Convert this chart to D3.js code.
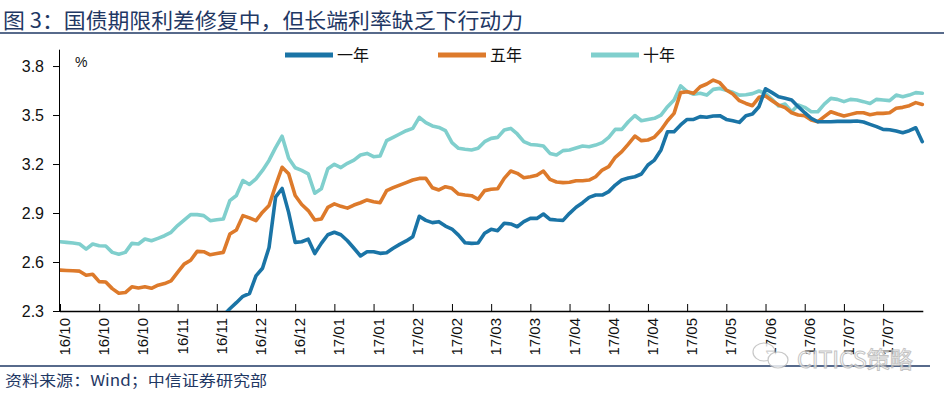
<!DOCTYPE html>
<html>
<head>
<meta charset="utf-8">
<script src="https://cdn.jsdelivr.net/npm/d3@7"></script>
<style>
  html, body { margin: 0; padding: 0; background: #fff; }
  svg { display: block; }
</style>
</head>
<body>
<svg id="chart" width="944" height="400"></svg>
<script>
const title = "图 3：国债期限利差修复中，但长端利率缺乏下行动力";
const source = "资料来源：Wind；中信证券研究部";
const seriesNames = ["一年", "五年", "十年"];
const yTicks = [2.3, 2.6, 2.9, 3.2, 3.5, 3.8];
const xTickLabels = ["16/10","16/10","16/10","16/11","16/11","16/12","16/12","17/01","17/01","17/02","17/02",
  "17/03","17/03","17/04","17/04","17/04","17/05","17/05","17/06","17/06","17/07","17/07"];
const pointsPerTick = 6;

const oneYear = [null,null,null,null,null,null,null,null,null,null,null,null,null,null,null,null,null,null,null,null,null,null,null,null,
  2.230,2.272,2.314,2.351,2.390,2.407,2.515,2.562,2.689,2.997,3.050,2.904,2.720,2.724,2.740,2.652,
  2.714,2.767,2.782,2.767,2.730,2.684,2.637,2.663,2.663,2.653,2.657,2.684,2.708,2.729,2.755,2.880,
  2.855,2.841,2.847,2.820,2.802,2.765,2.718,2.714,2.716,2.776,2.800,2.792,2.837,2.833,2.816,2.847,
  2.867,2.867,2.894,2.861,2.857,2.855,2.898,2.935,2.963,2.996,3.010,3.010,3.031,3.071,3.102,3.114,
  3.122,3.139,3.194,3.224,3.286,3.398,3.398,3.439,3.473,3.473,3.490,3.486,3.494,3.496,3.473,3.465,
  3.455,3.496,3.506,3.551,3.661,3.637,3.612,3.602,3.592,3.551,3.514,3.480,3.459,3.459,3.459,3.461,
  3.461,3.461,3.463,3.457,3.443,3.429,3.412,3.410,3.402,3.392,3.404,3.422,3.337];

const fiveYear = [2.550,2.548,2.546,2.544,2.519,2.525,2.480,2.478,2.437,2.409,2.413,2.448,2.441,2.448,2.439,2.458,
  2.468,2.484,2.536,2.587,2.611,2.665,2.663,2.644,2.652,2.659,2.771,2.796,2.884,2.870,2.853,2.905,
  2.946,3.068,3.180,3.140,3.007,2.952,2.915,2.857,2.863,2.935,2.956,2.941,2.930,2.949,2.963,2.980,
  2.969,2.963,3.037,3.055,3.071,3.086,3.102,3.112,3.112,3.055,3.041,3.061,3.051,3.016,3.010,3.006,
  2.984,3.037,3.045,3.049,3.112,3.157,3.143,3.116,3.122,3.131,3.157,3.106,3.090,3.086,3.088,3.098,
  3.098,3.102,3.122,3.163,3.184,3.241,3.276,3.322,3.371,3.343,3.347,3.365,3.408,3.465,3.510,3.637,
  3.643,3.633,3.673,3.690,3.714,3.698,3.653,3.629,3.588,3.571,3.557,3.608,3.616,3.588,3.561,3.545,
  3.514,3.500,3.496,3.469,3.459,3.490,3.520,3.506,3.494,3.504,3.514,3.514,3.502,3.510,3.510,3.514,
  3.541,3.547,3.557,3.576,3.565];

const tenYear = [2.724,2.720,2.716,2.710,2.679,2.710,2.700,2.698,2.659,2.648,2.659,2.714,2.710,2.741,2.730,2.745,
  2.761,2.782,2.823,2.857,2.890,2.890,2.884,2.853,2.859,2.863,2.976,3.007,3.099,3.075,3.109,3.161,
  3.222,3.300,3.370,3.235,3.177,3.161,3.140,3.021,3.048,3.171,3.198,3.178,3.204,3.224,3.255,3.265,
  3.245,3.249,3.343,3.363,3.384,3.404,3.418,3.486,3.453,3.433,3.424,3.404,3.331,3.296,3.290,3.286,
  3.296,3.337,3.357,3.363,3.408,3.418,3.384,3.337,3.320,3.316,3.310,3.265,3.255,3.282,3.286,3.298,
  3.310,3.306,3.316,3.331,3.363,3.412,3.412,3.459,3.497,3.465,3.473,3.480,3.500,3.551,3.592,3.678,
  3.643,3.627,3.633,3.622,3.657,3.663,3.651,3.639,3.622,3.624,3.631,3.647,3.633,3.596,3.555,3.567,
  3.520,3.561,3.547,3.520,3.520,3.567,3.602,3.596,3.582,3.596,3.592,3.582,3.571,3.596,3.592,3.588,
  3.622,3.612,3.622,3.637,3.633];

const colors = ["#1a74a6", "#dd7a2b", "#80cfcd"];
const navy = "#1f3864";
const cjk = "'Noto Sans CJK SC', 'Noto Sans', sans-serif";
const latin = "Arial, 'Liberation Sans', sans-serif";

const svg = d3.select("#chart");
const plot = { left: 60, right: 922.3, top: 49.7, bottom: 311 };
const n = tenYear.length;

const x = d3.scaleLinear().domain([0, n - 1]).range([plot.left, plot.right]);
const y = d3.scaleLinear().domain([2.3, 3.9]).range([plot.bottom, plot.top]);

// Title
svg.append("text").attr("x", 3).attr("y", 28)
  .attr("font-family", cjk).attr("font-size", 21).attr("fill", navy)
  .attr("textLength", 520).attr("lengthAdjust", "spacingAndGlyphs").text(title);
svg.append("line").attr("x1", 0).attr("x2", 944).attr("y1", 33).attr("y2", 33)
  .attr("stroke", navy).attr("stroke-width", 1.5);

// Clip
svg.append("defs").append("clipPath").attr("id", "clip")
  .append("rect").attr("x", plot.left).attr("y", plot.top - 10)
  .attr("width", plot.right - plot.left + 5).attr("height", plot.bottom - plot.top + 10);

// Y axis
const yAxis = d3.axisLeft(y).tickValues(yTicks).tickSize(7).tickPadding(9)
  .tickFormat(d3.format(".1f"));
const gy = svg.append("g").attr("transform", `translate(${plot.left},0)`).call(yAxis);
gy.select(".domain").attr("d", `M-0.5,${plot.top}V${plot.bottom}`).attr("stroke", "#000");
gy.selectAll(".tick line").attr("stroke", "#000");
gy.selectAll(".tick text").attr("font-family", latin).attr("font-size", 16).attr("fill", "#111");

svg.append("text").attr("x", 75).attr("y", 67).attr("font-family", latin)
  .attr("font-size", 14).attr("fill", "#111").text("%");

// X axis
const tickIdx = xTickLabels.map((_, k) => k * pointsPerTick);
const xAxis = d3.axisBottom(x).tickValues(tickIdx).tickSize(-7).tickFormat("");
const gx = svg.append("g").attr("transform", `translate(0,${plot.bottom})`).call(xAxis);
gx.select(".domain").attr("d", `M${plot.left},0.5H${plot.right + 1}`).attr("stroke", "#000").attr("stroke-width", 1.3);
gx.selectAll(".tick line").attr("stroke", "#000");
svg.append("g").selectAll("text").data(xTickLabels).join("text")
  .attr("transform", (d, k) => `translate(${x(tickIdx[k]) + 10},${plot.bottom + 7}) rotate(-90)`)
  .attr("text-anchor", "end").attr("font-family", latin).attr("font-size", 15).attr("fill", "#111")
  .text(d => d);

// Lines
const line = d3.line().defined(d => d != null).x((d, i) => x(i)).y(d => y(d));
const series = [oneYear, fiveYear, tenYear];
const order = [2, 1, 0];
const gl = svg.append("g").attr("clip-path", "url(#clip)");
order.forEach(s => {
  gl.append("path").datum(series[s]).attr("d", line)
    .attr("fill", "none").attr("stroke", colors[s]).attr("stroke-width", 3.6)
    .attr("stroke-linejoin", "round").attr("stroke-linecap", "round");
});

// Legend
const legendX = [285, 438, 591];
seriesNames.forEach((name, s) => {
  svg.append("line").attr("x1", legendX[s]).attr("x2", legendX[s] + 48)
    .attr("y1", 55).attr("y2", 55).attr("stroke", colors[s]).attr("stroke-width", 5);
  svg.append("text").attr("x", legendX[s] + 52).attr("y", 61)
    .attr("font-family", cjk).attr("font-size", 16).attr("fill", "#111").text(name);
});

// Footer
svg.append("line").attr("x1", 0).attr("x2", 930).attr("y1", 366).attr("y2", 366)
  .attr("stroke", navy).attr("stroke-width", 1.5);
svg.append("text").attr("x", 5).attr("y", 386)
  .attr("font-family", cjk).attr("font-size", 15).attr("fill", navy)
  .attr("textLength", 262).attr("lengthAdjust", "spacingAndGlyphs").text(source);

// Watermark
const wm = svg.append("g").attr("opacity", 0.8);
wm.append("ellipse").attr("cx", 764).attr("cy", 352).attr("rx", 11).attr("ry", 9)
  .attr("fill", "#fff").attr("stroke", "#bbb").attr("stroke-width", 1.2);
wm.append("ellipse").attr("cx", 778).attr("cy", 360).attr("rx", 10).attr("ry", 8)
  .attr("fill", "#fff").attr("stroke", "#bbb").attr("stroke-width", 1.2);
wm.append("text").attr("x", 797).attr("y", 368).attr("font-family", cjk).attr("font-size", 23)
  .attr("fill", "#fff").attr("stroke", "#b5b5b5").attr("stroke-width", 1).text("CITICS策略");
</script>
</body>
</html>
